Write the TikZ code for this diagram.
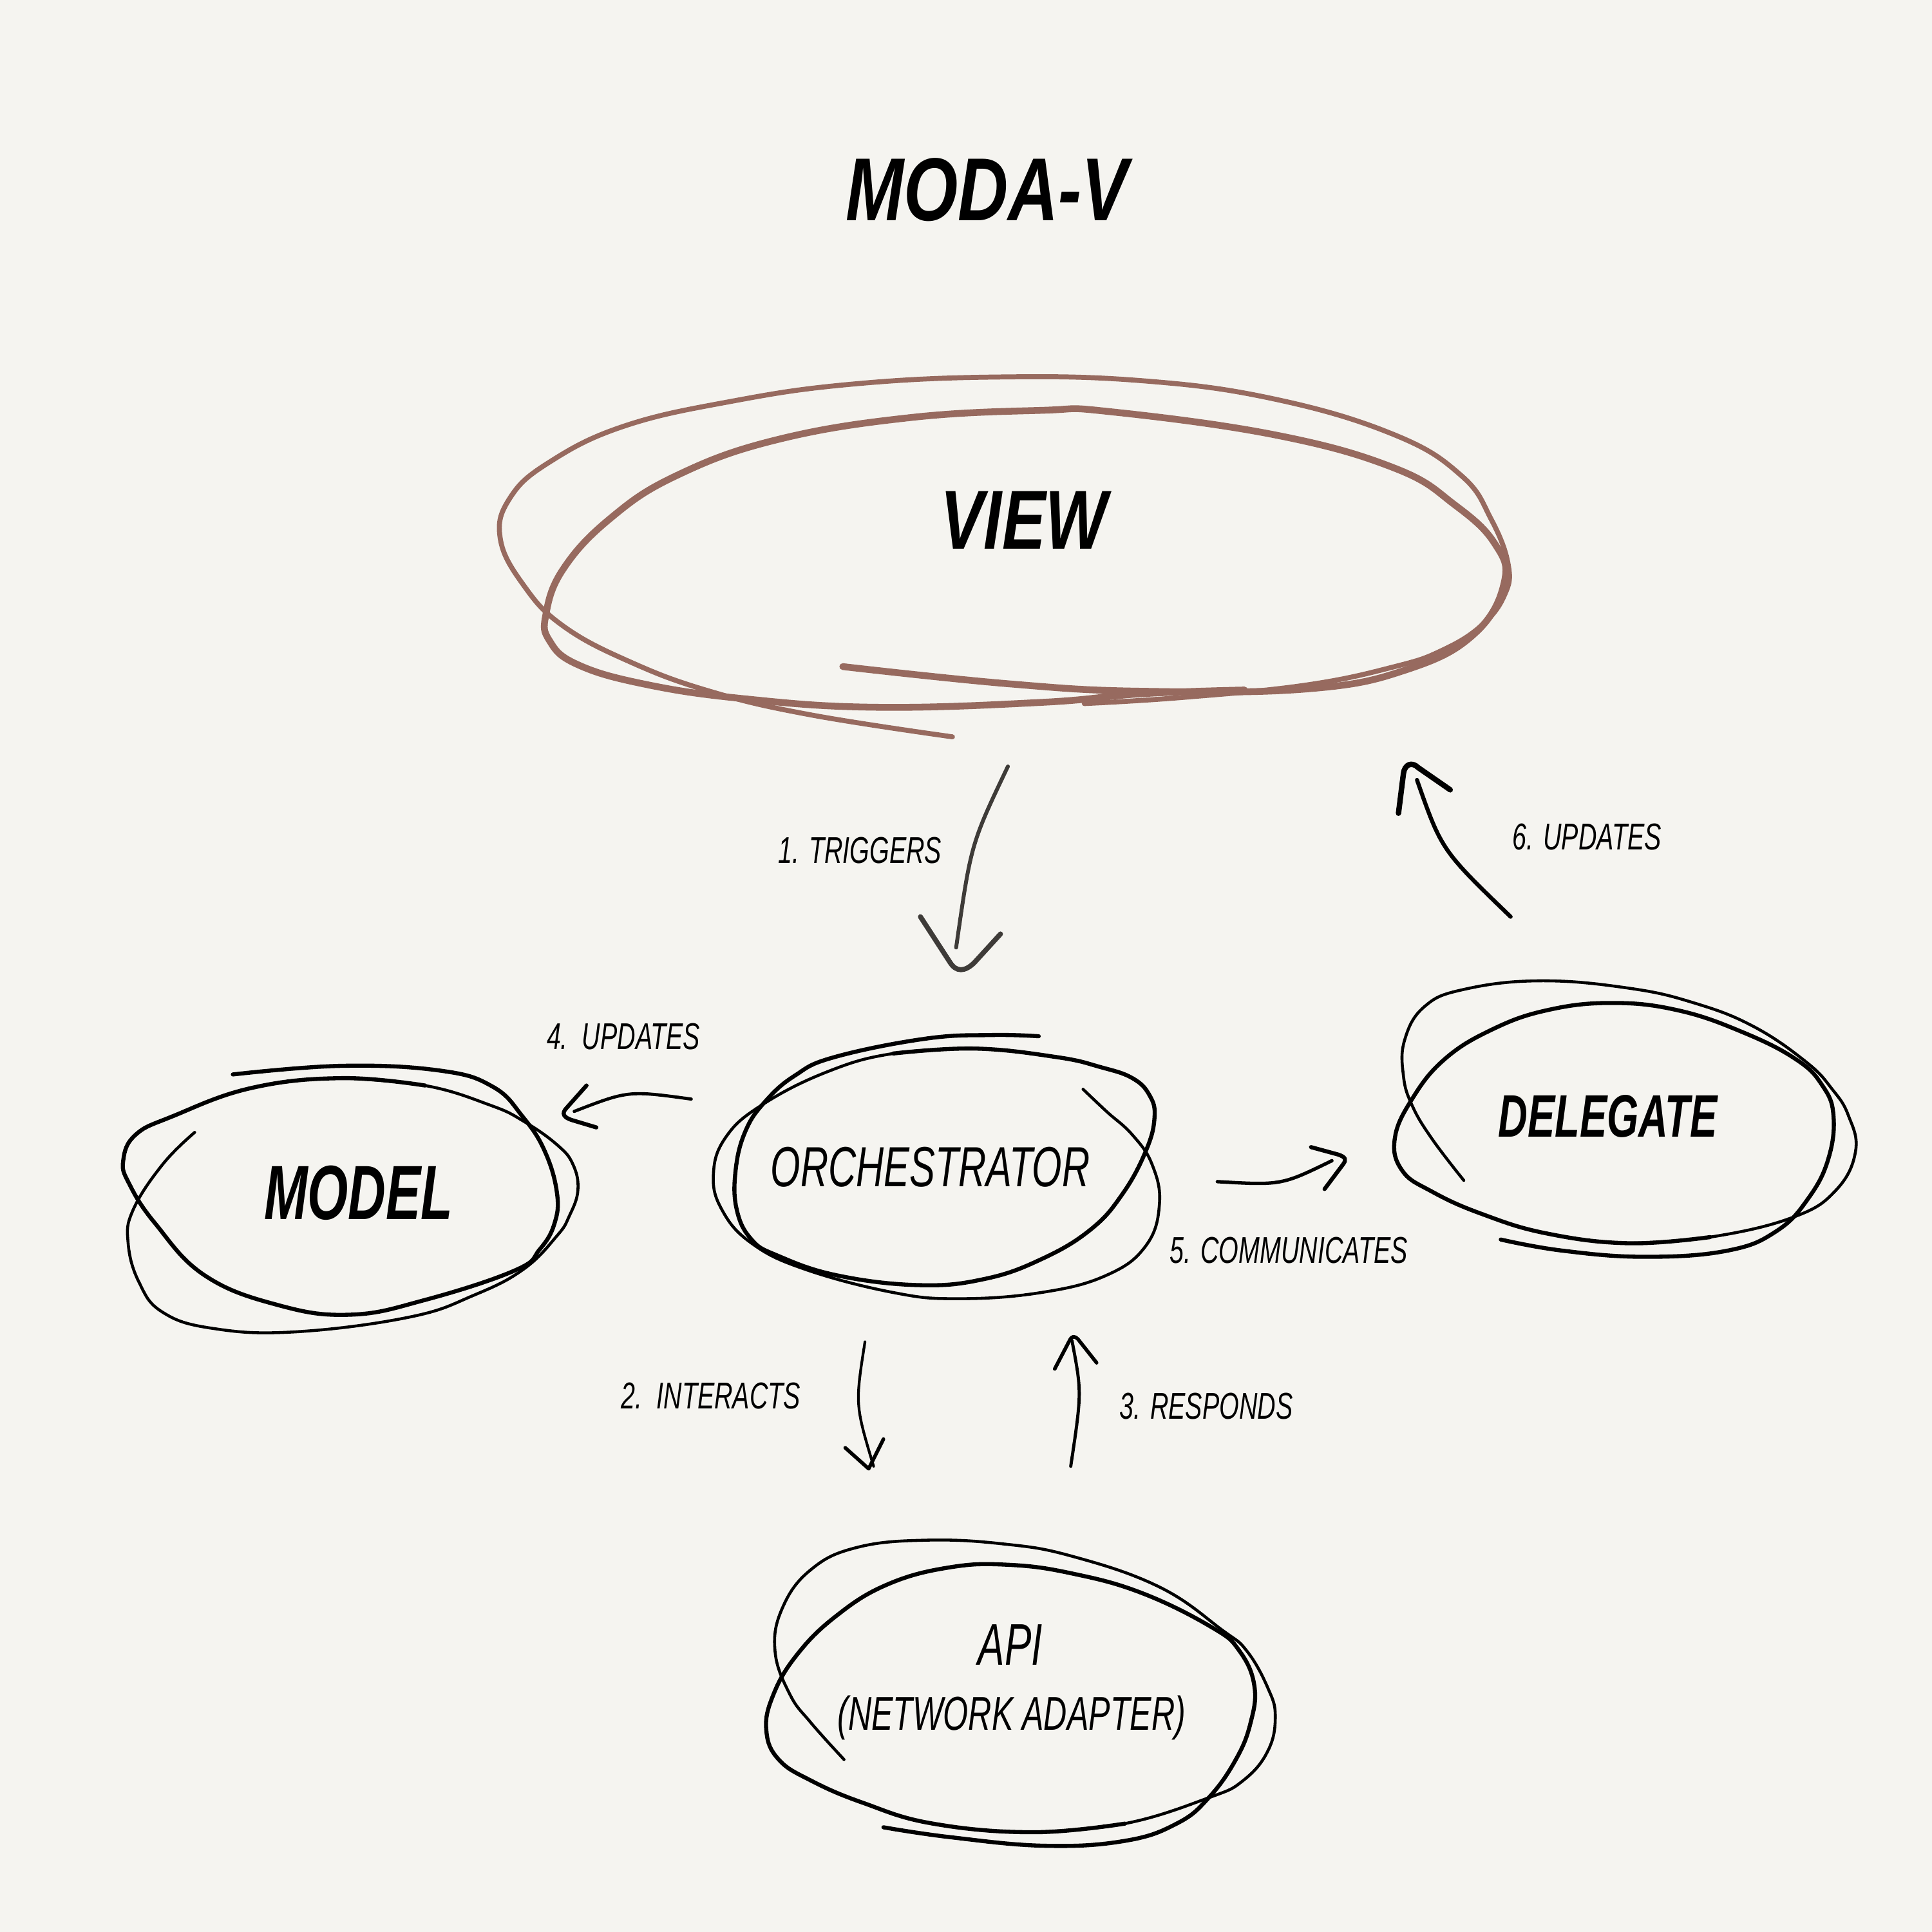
\documentclass[tikz,border=0pt]{standalone}
\usepackage{fontspec}
\usepackage{tikz}
\newfontfamily\hand[FakeStretch=0.68]{Liberation Sans}
\newfontfamily\handwide[FakeStretch=0.78]{Liberation Sans}
\definecolor{paper}{RGB}{245,244,240}
\definecolor{viewbrown}{RGB}{151,106,95}
\definecolor{pencil}{RGB}{62,59,56}

\begin{document}
\begin{tikzpicture}[x=0.019133cm, y=-0.019133cm,
pen/.style={line width=1.8pt, line cap=round, line join=round},
thinpen/.style={line width=1.3pt, line cap=round, line join=round},
brownpen/.style={viewbrown, line width=3pt, line cap=round, line join=round},
brownthin/.style={viewbrown, line width=2.2pt, line cap=round, line join=round},
tip/.style={line width=1.8pt, line cap=round, line join=round},
lbl/.style={font=\hand\itshape\fontsize{16.5}{18}\selectfont, inner sep=0pt},
big/.style={font=\hand\itshape\bfseries\fontsize{#1}{#1}\selectfont, inner sep=0pt}]

\fill [paper] (0,0) rectangle (1568,1568);
\useasboundingbox (0,0) rectangle (1568,1568);

\node [font=\handwide\itshape\bfseries\fontsize{39.5}{40}\selectfont, inner sep=0pt] (title) at (801,154) {MODA-V};

% view
\draw [brownpen] plot [smooth, tension=0.7] coordinates {(684,541) (819,555) (927,561) (1062,559) (1143,543) (1197,514) (1221,472) (1213,441) (1181,410) (1132,380) (1035,353) (900,334) (846,333) (738,339) (630,357) (549,386) (495,421) (457,462) (443,499) (446,520) (468,539) (522,555) (603,567) (711,574) (846,570) (927,563) (1010,560)};
\draw [brownthin] plot [smooth, tension=0.7] coordinates {(773,598) (657,580) (576,561) (511,537) (457,508) (425,475) (406,437) (414,404) (446,375) (506,346) (592,326) (689,312) (808,306) (927,309) (1035,324) (1132,353) (1186,386) (1210,421) (1224,458) (1221,483) (1202,508) (1170,528) (1132,541) (1060,556) (960,566) (880,571)};
\node [font=\handwide\itshape\bfseries\fontsize{37}{38}\selectfont, inner sep=0pt] (view) at (831,422) {VIEW};

% model
\draw [pen] plot [smooth, tension=0.7] coordinates {(189,872) (278,865) (358,869) (400,882) (424,906) (442,934) (452,968) (450,993) (438,1014) (418,1031) (345,1055) (284,1067) (225,1059) (166,1035) (126,993) (105,961) (100,942) (110,921) (140,906) (204,883) (278,875) (345,881)};
\draw [thinpen] plot [smooth, tension=0.7] coordinates {(278,875) (345,881) (398,897) (425,910) (452,929) (465,945) (469,966) (462,987) (452,1003) (425,1030) (385,1051) (332,1069) (238,1081) (172,1078) (132,1065) (113,1041) (104,1009) (108,982) (132,945) (158,919)};
\node [big=34] (model) at (291,968) {MODEL};

% orchestrator
\draw [pen] plot [smooth, tension=0.7] coordinates {(843,841) (805,840) (751,843) (677,858) (645,873) (621,894) (605,918) (597,950) (598,982) (610,1006) (631,1019) (679,1035) (746,1043) (799,1038) (845,1022) (885,998) (911,969) (930,934) (937,907) (933,889) (919,875) (893,866) (858,858) (791,851) (725,855)};
\draw [thinpen] plot [smooth, tension=0.7] coordinates {(791,851) (725,855) (671,870) (618,897) (589,923) (579,953) (586,982) (610,1009) (653,1030) (725,1049) (778,1054) (845,1049) (898,1035) (930,1011) (941,977) (935,945) (919,921) (898,902) (879,884)};
\node [font=\hand\itshape\fontsize{25}{26}\selectfont, inner sep=0pt] (orch) at (755,947) {ORCHESTRATOR};

% delegate
\draw [pen] plot [smooth, tension=0.7] coordinates {(1218,1006) (1268,1015) (1335,1020) (1402,1015) (1442,999) (1468,972) (1484,940) (1488,905) (1479,881) (1458,860) (1415,838) (1362,820) (1308,814) (1255,820) (1210,836) (1172,860) (1146,892) (1132,924) (1138,950) (1162,967) (1202,985) (1255,1001) (1322,1009) (1388,1004)};
\draw [thinpen] plot [smooth, tension=0.7] coordinates {(1322,1009) (1388,1004) (1455,988) (1490,966) (1506,934) (1500,905) (1487,884) (1466,862) (1423,833) (1375,814) (1322,802) (1250,796) (1188,803) (1156,817) (1140,844) (1139,873) (1146,897) (1162,924) (1188,958)};
\node [big=26.5] (deleg) at (1305,906) {DELEGATE};

% api
\draw [pen] plot [smooth, tension=0.7] coordinates {(717,1483) (771,1491) (848,1498) (913,1494) (955,1480) (981,1459) (1003,1428) (1015,1398) (1018,1368) (1006,1340) (984,1321) (927,1293) (870,1277) (819,1270) (771,1272) (720,1286) (678,1312) (646,1344) (627,1377) (622,1405) (632,1428) (658,1445) (700,1463) (757,1480) (839,1487) (913,1480)};
\draw [thinpen] plot [smooth, tension=0.7] coordinates {(839,1487) (913,1480) (981,1459) (1009,1445) (1029,1421) (1035,1393) (1029,1370) (1012,1340) (992,1323) (941,1288) (870,1263) (814,1253) (751,1250) (695,1256) (658,1274) (635,1305) (629,1340) (641,1375) (658,1398) (685,1428)};
\node [font=\hand\itshape\fontsize{26}{27}\selectfont, inner sep=0pt] (api) at (820,1335) {API};
\node [font=\hand\itshape\fontsize{21}{22}\selectfont, inner sep=0pt] (apinet) at (821,1394) {(NETWORK ADAPTER)};

% connectors
\coordinate (trigS) at (818,622);
\coordinate (trigE) at (776,769);
\coordinate (updvS) at (1226,744);
\coordinate (updvE) at (1150,633);
\coordinate (updmS) at (561,892);
\coordinate (updmE) at (466,902);
\coordinate (commS) at (988,959);
\coordinate (commE) at (1081,942);
\coordinate (interS) at (702,1089);
\coordinate (interE) at (709,1190);
\coordinate (respS) at (869,1190);
\coordinate (respE) at (870,1088);

\draw [pencil, line width=1.7pt, line cap=round] (trigS) .. controls (788,685) .. (trigE);
\draw [pencil, tip, line width=2.2pt] (747,744) -- (771,781) .. controls (776,789) and (783,789) .. (791,781) -- (812,758); % head
\node [lbl] (ltrig) at (698,690) {1. TRIGGERS};

\draw [line width=1.8pt, line cap=round] (updvS) .. controls (1170,690) .. (updvE);
\draw [tip, line width=2.4pt] (1135,660) -- (1139,628) .. controls (1140,620) and (1146,618) .. (1151,623) -- (1177,641); % head
\node [lbl] (lupdv) at (1288,679) {6. UPDATES};

\draw [line width=1.4pt, line cap=round] (updmS) .. controls (510,885) .. (updmE);
\draw [tip] (476,881) -- (460,899) .. controls (455,904) and (458,907) .. (464,909) -- (484,915); % head
\node [lbl] (lupdm) at (506,841) {4.\ \ UPDATES};

\draw [line width=1.5pt, line cap=round] (commS) .. controls (1040,962) .. (commE);
\draw [tip] (1064,931) -- (1086,937) .. controls (1092,939) and (1093,941) .. (1090,945) -- (1075,965); % head
\node [lbl] (lcomm) at (1046,1015) {5. COMMUNICATES};

\draw [line width=1.2pt, line cap=round] (interS) .. controls (694,1140) .. (interE);
\draw [tip, line width=1.6pt] (686,1175) -- (705,1192) -- (717,1168); % head
\node [lbl] (linter) at (577,1133) {2.\ \ INTERACTS};

\draw [line width=1.4pt, line cap=round] (respS) .. controls (878,1130) .. (respE);
\draw [tip, line width=1.6pt] (856,1111) -- (868,1088) .. controls (870,1084) and (872,1084) .. (875,1087) -- (890,1106); % head
\node [lbl] (lresp) at (979,1141) {3. RESPONDS};

\end{tikzpicture}
\end{document}
